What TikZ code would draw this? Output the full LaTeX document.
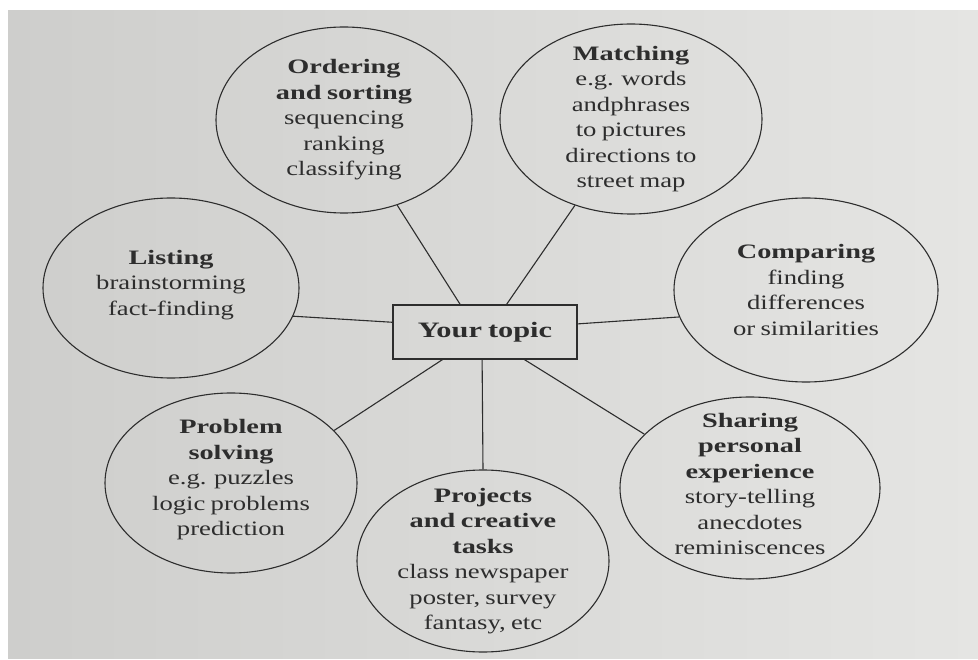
\documentclass[tikz,border=0pt]{standalone}
\usepackage{fontspec}
\setmainfont[FakeStretch=1.3, BoldFeatures={FakeStretch=1.38}, WordSpace=0.8]{Liberation Serif}
\usepackage{tikz}
\usetikzlibrary{shapes.geometric}
\definecolor{ink}{RGB}{45,45,45}
\definecolor{paperL}{RGB}{206,206,204}
\definecolor{paperR}{RGB}{229,229,227}
\tikzset{
  bubble/.style={ellipse, draw=ink, line width=1.1pt, inner sep=0pt},
  bubbletext/.style={text=ink, align=center, inner sep=0pt, font=\fontsize{20.5}{25.5}\selectfont},
  spoke/.style={draw=ink, line width=1.1pt},
}

\begin{document}
\begin{tikzpicture}[x=1pt, y=-1pt]
  \useasboundingbox (0,0) rectangle (978,660);
  \fill[white] (0,0) rectangle (978,660);
  \shade[left color=paperL, right color=paperR] (8,11) rectangle (978,658);

  % the topic in the middle
  \node[draw=ink, line width=1.1pt, minimum width=184pt, minimum height=54pt, inner sep=0pt,
        text=ink, font=\fontsize{22}{26}\selectfont\bfseries] (topic) at (485,332) {Your topic};

  % bubbles round it
  \node[bubble, minimum width=256pt, minimum height=186pt] (ordering)  at (344,120) {};
  \node[bubble, minimum width=262pt, minimum height=190pt] (matching)  at (631,119) {};
  \node[bubble, minimum width=256pt, minimum height=180pt] (listing)   at (171,288) {};
  \node[bubble, minimum width=264pt, minimum height=184pt] (comparing) at (806,290) {};
  \node[bubble, minimum width=252pt, minimum height=180pt] (problem)   at (231,483) {};
  \node[bubble, minimum width=252pt, minimum height=182pt] (projects)  at (483,561) {};
  \node[bubble, minimum width=260pt, minimum height=182pt] (sharing)   at (750,488) {};

  \node[bubbletext] (ordering-txt) at (ordering) {\textbf{Ordering}\\ \textbf{and sorting}\\ sequencing\\ ranking\\ classifying};
  \node[bubbletext] (matching-txt) at (matching) {\textbf{Matching}\\ e.g. words\\ andphrases\\ to pictures\\ directions to\\ street map};
  \node[bubbletext] (listing-txt) at ([yshift=3pt]listing.center) {\textbf{Listing}\\ brainstorming\\ fact-finding};
  \node[bubbletext] (comparing-txt) at (comparing) {\textbf{Comparing}\\ finding\\ differences\\ or similarities};
  \node[bubbletext] (problem-txt) at ([yshift=3pt]problem.center) {\textbf{Problem}\\ \textbf{solving}\\ e.g. puzzles\\ logic problems\\ prediction};
  \node[bubbletext] (projects-txt) at (projects) {\textbf{Projects}\\ \textbf{and creative}\\ \textbf{tasks}\\ class newspaper\\ poster, survey\\ fantasy, etc};
  \node[bubbletext] (sharing-txt) at ([yshift=4pt]sharing.center) {\textbf{Sharing}\\ \textbf{personal}\\ \textbf{experience}\\ story-telling\\ anecdotes\\ reminiscences};

  % spokes to the box
  \draw[spoke] (ordering.-58.6)   -- (topic.132.8);
  \draw[spoke] (matching.-123.2)  -- (topic.52.1);
  \draw[spoke] (listing.-13.3)    -- (topic.174.4);
  \draw[spoke] (comparing.-168.5) -- (topic.5.6);
  \draw[spoke] (problem.27.7)     -- (topic.-147.9);
  \draw[spoke] (projects.north)   -- (topic.-96);
  \draw[spoke] (sharing.153)      -- (topic.-35.4);
\end{tikzpicture}
\end{document}
